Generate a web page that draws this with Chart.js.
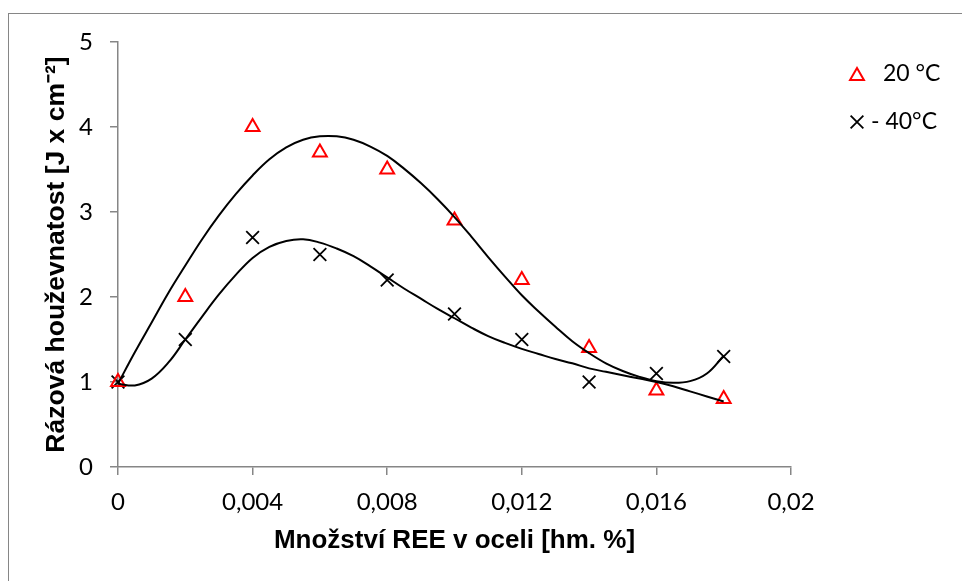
<!DOCTYPE html>
<html>
<head>
<meta charset="utf-8">
<script src="https://cdn.jsdelivr.net/npm/chart.js@4/dist/chart.umd.min.js"></script>
<style>
  html, body { margin: 0; padding: 0; background: #fff; }
  canvas { display: block; }
</style>
</head>
<body>
<canvas id="chart" width="962" height="581"></canvas>
<script>
// measured points (REE content vs. impact toughness)
const reeX = [0, 0.002, 0.004, 0.006, 0.008, 0.010, 0.012, 0.014, 0.016, 0.018];
const tough20 = [1.0, 2.0, 4.0, 3.7, 3.5, 2.9, 2.2, 1.4, 0.9, 0.8];
const toughMinus40 = [1.0, 1.5, 2.7, 2.5, 2.2, 1.8, 1.5, 1.0, 1.1, 1.3];

// trend curves
const trendX = [0, 0.0005, 0.001, 0.0015, 0.002, 0.0025, 0.003, 0.0035, 0.004, 0.0045,
  0.005, 0.0055, 0.006, 0.0065, 0.007, 0.0075, 0.008, 0.0085, 0.009, 0.0095,
  0.010, 0.0105, 0.011, 0.0115, 0.012, 0.0125, 0.013, 0.0135, 0.014, 0.0145,
  0.015, 0.0155, 0.016, 0.0165, 0.017, 0.0175, 0.018];
const trendUpper = [0.98, 1.35, 1.70, 2.05, 2.37, 2.68, 2.96, 3.21, 3.43, 3.62,
  3.76, 3.85, 3.89, 3.89, 3.85, 3.77, 3.66, 3.51, 3.34, 3.15,
  2.94, 2.71, 2.47, 2.24, 2.02, 1.83, 1.65, 1.48, 1.34, 1.22,
  1.13, 1.06, 1.01, 0.99, 1.01, 1.10, 1.31];
const trendLower = [0.98, 0.96, 1.04, 1.23, 1.50, 1.77, 2.03, 2.26, 2.46, 2.59,
  2.66, 2.68, 2.64, 2.57, 2.48, 2.36, 2.23, 2.10, 1.98, 1.86,
  1.75, 1.64, 1.54, 1.46, 1.39, 1.33, 1.27, 1.22, 1.16, 1.12,
  1.08, 1.04, 1.00, 0.95, 0.89, 0.83, 0.77];

const seriesLabels = ["20 °C", "- 40°C"];
const xTitle = "Množství REE v oceli [hm. %]";
const yTitle = "Rázová houževnatost [J x cm⁻²]";

const toPts = (xs, ys) => xs.map((x, i) => ({ x, y: ys[i] }));
const AXIS = "#868686";
const tickFont = { family: "Lato", size: 24 };

/* ── frame + legend ─────────────────────────────────────────*/
const framePlugin = {
  id: "frame",
  beforeDraw(chart) {
    const c = chart.ctx;
    c.save();
    c.strokeStyle = AXIS;
    c.lineWidth = 1;
    c.strokeRect(8.5, 13.5, 1000, 1000);
    c.restore();
  }
};

const legendPlugin = {
  id: "sideLegend",
  afterDraw(chart) {
    const c = chart.ctx;
    const items = [
      { ds: chart.data.datasets[2], y: 74, tx: 883 },
      { ds: chart.data.datasets[3], y: 122, tx: 871 }
    ];
    c.save();
    items.forEach(it => {
      c.strokeStyle = it.ds.borderColor;
      c.fillStyle = "rgba(0,0,0,0)";
      c.lineWidth = it.ds.borderWidth;
      Chart.helpers.drawPoint(c, { pointStyle: it.ds.pointStyle, radius: it.ds.pointRadius, rotation: 0, borderWidth: it.ds.borderWidth }, 857, it.y + (it.ds.pointStyle === "triangle" ? 2 : 0));
      c.fillStyle = "#000";
      c.font = "23px Lato";
      c.textBaseline = "middle";
      c.textAlign = "left";
      c.fillText(it.ds.label, it.tx, it.y);
    });
    c.restore();
  }
};

/* ── chart ──────────────────────────────────────────────────*/
new Chart(document.getElementById("chart"), {
  type: "scatter",
  data: {
    datasets: [
      {
        label: "trend 20",
        data: toPts(trendX, trendUpper),
        showLine: true, pointRadius: 0, borderColor: "#000", borderWidth: 2,
        tension: 0.4, clip: false
      },
      {
        label: "trend -40",
        data: toPts(trendX, trendLower),
        showLine: true, pointRadius: 0, borderColor: "#000", borderWidth: 2,
        tension: 0.4, clip: false
      },
      {
        label: seriesLabels[0],
        data: toPts(reeX, tough20),
        pointStyle: "triangle", pointRadius: 8, borderColor: "#ff0000",
        backgroundColor: "rgba(0,0,0,0)", borderWidth: 2, clip: false
      },
      {
        label: seriesLabels[1],
        data: toPts(reeX, toughMinus40),
        pointStyle: "crossRot", pointRadius: 9, borderColor: "#000",
        backgroundColor: "#000", borderWidth: 1.8, clip: false
      }
    ]
  },
  options: {
    responsive: false,
    devicePixelRatio: 1,
    animation: false,
    layout: { padding: { left: 30, top: 42, right: 171, bottom: 10 } },
    plugins: { legend: { display: false }, tooltip: { enabled: false } },
    scales: {
      x: {
        type: "linear", min: 0, max: 0.02,
        afterFit: s => { s.height = 104; },
        ticks: {
          stepSize: 0.004, color: "#000", font: tickFont, padding: 13,
          callback: v => String(+v.toFixed(3)).replace(".", ",")
        },
        grid: { drawOnChartArea: false, drawTicks: true, tickLength: 8, color: AXIS, lineWidth: 1.5 },
        border: { display: true, color: AXIS, width: 1.5 },
        title: {
          display: true, text: xTitle, color: "#000",
          font: { family: "Liberation Sans", size: 26, weight: "bold" },
          padding: { top: 0, bottom: 15 }
        }
      },
      y: {
        type: "linear", min: 0, max: 5,
        afterFit: s => { s.width = 88; },
        ticks: { stepSize: 1, color: "#000", font: tickFont, padding: 17 },
        grid: { drawOnChartArea: false, drawTicks: true, tickLength: 8, color: AXIS, lineWidth: 1.5 },
        border: { display: true, color: AXIS, width: 1.5 },
        title: {
          display: true, text: yTitle, color: "#000",
          font: { family: "Liberation Sans", size: 26.5, weight: "bold" },
          padding: { top: 11, bottom: 0 }
        }
      }
    }
  },
  plugins: [framePlugin, legendPlugin]
});
</script>
</body>
</html>
